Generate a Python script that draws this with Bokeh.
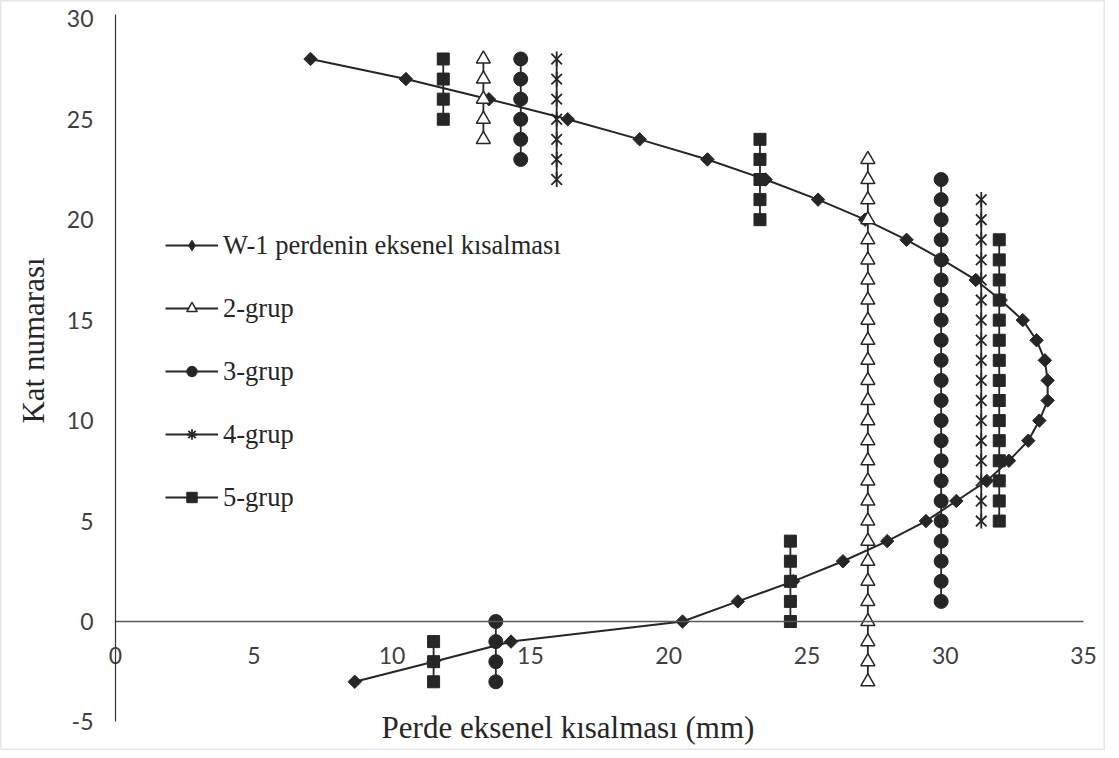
import math
from bokeh.plotting import figure
from bokeh.models import Range1d, FixedTicker, Legend, LegendItem, Label
from bokeh.embed import file_html
from bokeh.resources import INLINE

# ---------------- data ----------------
# W-1 wall axial shortening (mm) per floor number
w1_floors = [-3, -2, -1, 0, 1, 2, 3, 4, 5, 6, 7, 8, 9, 10, 11, 12, 13, 14, 15,
             16, 17, 18, 19, 20, 21, 22, 23, 24, 25, 26, 27, 28]
w1_short = [8.65, 11.5, 14.3, 20.5, 22.5, 24.5, 26.3, 27.9, 29.3, 30.4, 31.5, 32.3,
            33.0, 33.4, 33.7, 33.7, 33.6, 33.3, 32.8, 32.0, 31.1, 29.9, 28.6, 27.1,
            25.4, 23.5, 21.4, 18.95, 16.35, 13.5, 10.5, 7.05]

# groups: each column = (shortening value, list of floors)
g2_x = [13.3, 27.2]
g2_floors = [[28, 27, 26, 25, 24],
             [23, 22, 21, 20, 19, 18, 17, 16, 15, 14, 13, 12, 11, 10, 9, 8, 7, 6, 5, 4,
              3, 2, 1, 0, -1, -2, -3]]
g3_x = [14.65, 29.85, 13.75]
g3_floors = [[28, 27, 26, 25, 24, 23],
             [22, 21, 20, 19, 18, 17, 16, 15, 14, 13, 12, 11, 10, 9, 8, 7, 6, 5, 4, 3, 2, 1],
             [0, -1, -2, -3]]
g4_x = [15.95, 31.3]
g4_floors = [[28, 27, 26, 25, 24, 23, 22],
             [21, 20, 19, 18, 17, 16, 15, 14, 13, 12, 11, 10, 9, 8, 7, 6, 5]]
g5_x = [11.85, 23.3, 31.95, 24.4, 11.5]
g5_floors = [[28, 27, 26, 25],
             [24, 23, 22, 21, 20],
             [19, 18, 17, 16, 15, 14, 13, 12, 11, 10, 9, 8, 7, 6, 5],
             [4, 3, 2, 1, 0],
             [-1, -2, -3]]

x_ticks = [0, 5, 10, 15, 20, 25, 30, 35]
y_ticks = [-5, 0, 5, 10, 15, 20, 25, 30]

labels = ["W-1 perdenin eksenel kısalması", "2-grup", "3-grup", "4-grup", "5-grup"]
x_title = "Perde eksenel kısalması (mm)"
y_title = "Kat numarası"

# ---------------- figure ----------------
INK = "#262626"
W, H = 1105, 750
PX_PER_X = 27.66     # pixels per mm
PX_PER_Y = 20.09     # pixels per floor
X0_PX, Y0_PX = 115, 621   # pixel position of the origin

p = figure(width=W, height=H, output_backend="svg", toolbar_location=None,
           x_range=Range1d(-X0_PX / PX_PER_X, (W - X0_PX) / PX_PER_X),
           y_range=Range1d((Y0_PX - H) / PX_PER_Y, Y0_PX / PX_PER_Y),
           min_border=0)
p.background_fill_color = "white"
p.border_fill_color = "white"
p.outline_line_color = "#e3e6ee"
p.outline_line_width = 2
p.grid.visible = False

# x axis crossing at y = 0
xa = p.xaxis[0]
xa.fixed_location = 0
xa.bounds = (0, 35)
xa.ticker = FixedTicker(ticks=x_ticks)
xa.axis_line_color = "#595959"
xa.axis_line_width = 1.5
xa.major_tick_line_color = None
xa.minor_tick_line_color = None
xa.major_tick_out = 0
xa.major_tick_in = 0
xa.major_label_standoff = 25
xa.major_label_text_font = "Lato"
xa.major_label_text_font_size = "23px"
xa.major_label_text_color = "#404040"

# y axis at x = 0
ya = p.yaxis[0]
ya.fixed_location = 0
ya.bounds = (-5, 30.2)
ya.ticker = FixedTicker(ticks=y_ticks)
ya.major_label_overrides = {t: str(t) for t in y_ticks}
ya.axis_line_color = "#333333"
ya.axis_line_width = 1.2
ya.major_tick_line_color = None
ya.minor_tick_line_color = None
ya.major_tick_out = 0
ya.major_tick_in = 0
ya.major_label_standoff = 22
ya.major_label_text_font = "Lato"
ya.major_label_text_font_size = "23px"
ya.major_label_text_color = "#404040"


def columns_to_xy(cols_x, cols_floors):
    xs, ys, lx, ly = [], [], [], []
    for cx, fl in zip(cols_x, cols_floors):
        for f in fl:
            xs.append(cx)
            ys.append(f)
            lx.append(cx)
            ly.append(f)
        lx.append(float("nan"))
        ly.append(float("nan"))
    return xs, ys, lx, ly


items = []

# W-1 series (diamonds drawn as 45-degree squares; a zero-size diamond feeds the legend)
r_l = p.line(w1_short, w1_floors, line_color=INK, line_width=2)
p.scatter(w1_short, w1_floors, marker="square", angle=math.pi / 4, size=9.5,
          fill_color=INK, line_color=INK)
r_leg = p.scatter(w1_short, w1_floors, marker="diamond", size=0,
                  fill_color=INK, line_color=INK)
items.append(LegendItem(label=labels[0], renderers=[r_l, r_leg]))

# group 2 (open triangles)
xs, ys, lx, ly = columns_to_xy(g2_x, g2_floors)
r_l = p.line(lx, ly, line_color=INK, line_width=1.8)
r_m = p.scatter(xs, ys, marker="triangle", size=14, fill_color="white",
                line_color=INK, line_width=1.5)
items.append(LegendItem(label=labels[1], renderers=[r_l, r_m]))

# group 3 (filled circles)
xs, ys, lx, ly = columns_to_xy(g3_x, g3_floors)
r_l = p.line(lx, ly, line_color=INK, line_width=1.8)
r_m = p.scatter(xs, ys, marker="circle", size=14, fill_color=INK, line_color=INK)
items.append(LegendItem(label=labels[2], renderers=[r_l, r_m]))

# group 4 (star = x with vertical stroke)
xs, ys, lx, ly = columns_to_xy(g4_x, g4_floors)
r_l = p.line(lx, ly, line_color=INK, line_width=1.8)
p.scatter(xs, ys, marker="x", size=15, line_color=INK, line_width=1.8)
p.scatter(xs, ys, marker="dash", angle=math.pi / 2, size=15, line_color=INK,
          line_width=1.8)
r_leg = p.scatter(xs, ys, marker="asterisk", size=0, line_color=INK, line_width=1.8)
items.append(LegendItem(label=labels[3], renderers=[r_l, r_leg]))

# group 5 (filled squares)
xs, ys, lx, ly = columns_to_xy(g5_x, g5_floors)
r_l = p.line(lx, ly, line_color=INK, line_width=1.8)
r_m = p.scatter(xs, ys, marker="square", size=12, fill_color=INK, line_color=INK)
items.append(LegendItem(label=labels[4], renderers=[r_l, r_m]))

legend = Legend(items=items, location=(165, 233), orientation="vertical",
                background_fill_alpha=0, border_line_color=None,
                padding=0, margin=0, spacing=23,
                glyph_width=53, glyph_height=26, label_height=40, label_standoff=5,
                label_text_font="Liberation Serif", label_text_font_size="26.5px",
                label_text_color=INK, label_text_baseline="middle")
p.add_layout(legend, "center")

# axis titles
p.add_layout(Label(x=(567.5 - X0_PX) / PX_PER_X, y=(Y0_PX - 727) / PX_PER_Y,
                   text=x_title, text_align="center",
                   text_baseline="middle", text_font="Liberation Serif",
                   text_font_size="31px", text_color=INK))
p.add_layout(Label(x=(33 - X0_PX) / PX_PER_X, y=(Y0_PX - 340) / PX_PER_Y,
                   text=y_title, angle=math.pi / 2,
                   text_align="center", text_baseline="middle",
                   text_font="Liberation Serif", text_font_size="31px", text_color=INK))

open("out.html", "w").write(file_html(p, INLINE))
